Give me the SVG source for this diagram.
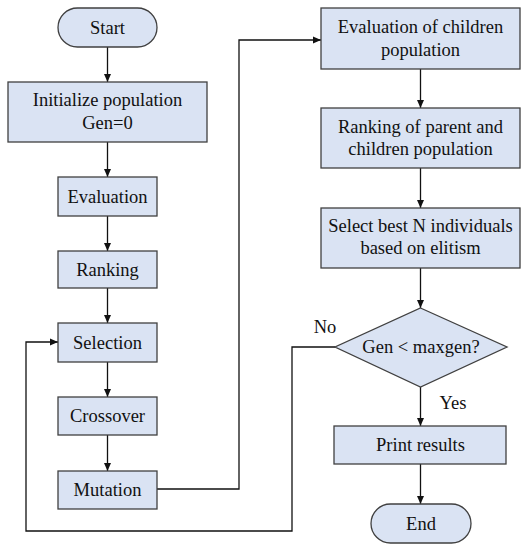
<svg xmlns="http://www.w3.org/2000/svg" width="531" height="550" viewBox="0 0 531 550">
<style>
.box{fill:#dae3f3;stroke:#404040;stroke-width:1.3}
.t{font-family:"Liberation Serif","Times New Roman",serif;font-size:18.5px;fill:#111;text-anchor:middle}
.c{fill:none;stroke:#111;stroke-width:1.3}
</style>
<defs>
<marker id="a" markerWidth="8" markerHeight="8" refX="8" refY="4" orient="auto" markerUnits="userSpaceOnUse">
<path d="M0,0.5 L8,4 L0,7.5 z" fill="#111"/>
</marker>
</defs>
<rect width="531" height="550" fill="#fff"/>
<g id="connectors">
<line class="c" x1="107.5" y1="47" x2="107.5" y2="82" marker-end="url(#a)"/>
<line class="c" x1="107.5" y1="142" x2="107.5" y2="177" marker-end="url(#a)"/>
<line class="c" x1="107.5" y1="216" x2="107.5" y2="251" marker-end="url(#a)"/>
<line class="c" x1="107.5" y1="288" x2="107.5" y2="323" marker-end="url(#a)"/>
<line class="c" x1="107.5" y1="362" x2="107.5" y2="397" marker-end="url(#a)"/>
<line class="c" x1="107.5" y1="435" x2="107.5" y2="471" marker-end="url(#a)"/>
<polyline class="c" points="157,489 239,489 239,40 321,40" marker-end="url(#a)"/>
<line class="c" x1="420.5" y1="69" x2="420.5" y2="108" marker-end="url(#a)"/>
<line class="c" x1="420.5" y1="168" x2="420.5" y2="208" marker-end="url(#a)"/>
<line class="c" x1="420.5" y1="268" x2="420.5" y2="308" marker-end="url(#a)"/>
<line class="c" x1="420.5" y1="387" x2="420.5" y2="426" marker-end="url(#a)"/>
<line class="c" x1="420.5" y1="464" x2="420.5" y2="504" marker-end="url(#a)"/>
<polyline class="c" points="335,347 292,347 292,531 26,531 26,342 58,342" marker-end="url(#a)"/>
<text class="t" x="325" y="333">No</text>
<text class="t" x="453" y="409">Yes</text>
</g>
<g id="start"><rect class="box" x="58" y="8" width="99" height="39" rx="19.5"/><text class="t" x="107.5" y="34">Start</text></g>
<g id="init"><rect class="box" x="8" y="82" width="199" height="60"/><text class="t" x="107.5" y="106">Initialize population</text><text class="t" x="107.5" y="129">Gen=0</text></g>
<g id="evaluation"><rect class="box" x="58" y="177" width="99" height="39"/><text class="t" x="107.5" y="203">Evaluation</text></g>
<g id="ranking"><rect class="box" x="58" y="251" width="99" height="37"/><text class="t" x="107.5" y="276">Ranking</text></g>
<g id="selection"><rect class="box" x="58" y="323" width="99" height="39"/><text class="t" x="107.5" y="349">Selection</text></g>
<g id="crossover"><rect class="box" x="58" y="397" width="99" height="38"/><text class="t" x="107.5" y="422">Crossover</text></g>
<g id="mutation"><rect class="box" x="58" y="471" width="99" height="38"/><text class="t" x="107.5" y="496">Mutation</text></g>
<g id="evalchildren"><rect class="box" x="321" y="8" width="199" height="61"/><text class="t" x="420.5" y="33">Evaluation of children</text><text class="t" x="420.5" y="56">population</text></g>
<g id="rankparent"><rect class="box" x="321" y="108" width="199" height="60"/><text class="t" x="420.5" y="133">Ranking of parent and</text><text class="t" x="420.5" y="155">children population</text></g>
<g id="selectbest"><rect class="box" x="321" y="208" width="199" height="60"/><text class="t" x="420.5" y="232">Select best N individuals</text><text class="t" x="420.5" y="254">based on elitism</text></g>
<g id="decision"><polygon class="box" points="420.5,308 507,347 420.5,387 335,347"/><text class="t" x="421" y="353">Gen &lt; maxgen?</text></g>
<g id="print"><rect class="box" x="334" y="426" width="172" height="38"/><text class="t" x="420.5" y="451">Print results</text></g>
<g id="end"><rect class="box" x="371" y="504" width="100" height="39" rx="19.5"/><text class="t" x="421" y="530">End</text></g>
</svg>
